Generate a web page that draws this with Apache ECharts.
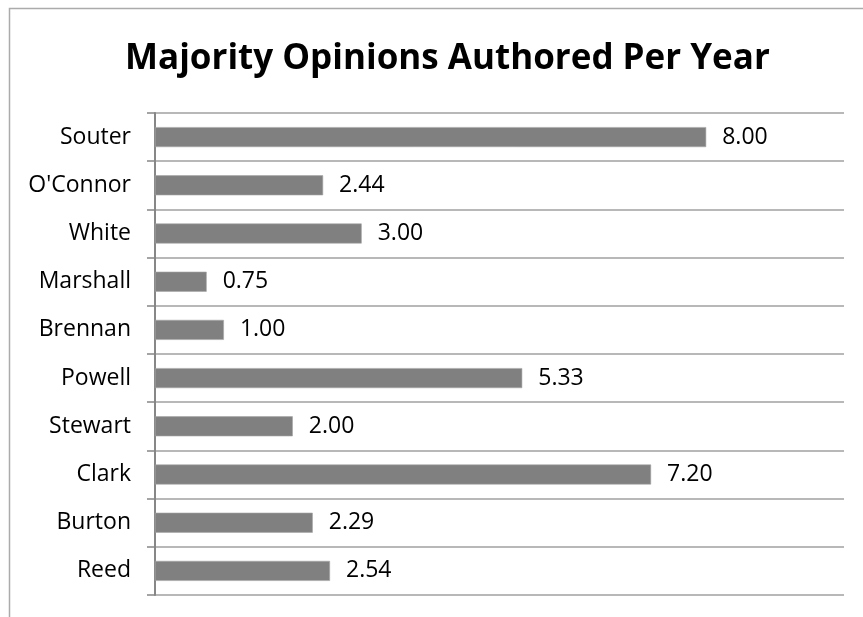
<!DOCTYPE html>
<html>
<head>
<meta charset="utf-8">
<script src="https://cdn.jsdelivr.net/npm/echarts@6/dist/echarts.min.js"></script>
<style>html,body{margin:0;padding:0;background:#fff;}#c{width:863px;height:617px;}</style>
</head>
<body>
<div id="c"></div>
<script>
const titleText = 'Majority Opinions Authored Per Year';
const justices = ['Reed', 'Burton', 'Clark', 'Stewart', 'Powell', 'Brennan', 'Marshall', 'White', "O'Connor", 'Souter'];
const opinionsPerYear = [2.54, 2.29, 7.20, 2.00, 5.33, 1.00, 0.75, 3.00, 2.44, 8.00];
const axisMax = 10;

const FONT = 'Open Sans';
const chart = echarts.init(document.getElementById('c'), null, {renderer: 'canvas'});
chart.setOption({
  animation: false,
  backgroundColor: '#ffffff',
  title: {
    text: titleText,
    left: 120,
    top: 37,
    textStyle: {fontFamily: FONT, fontWeight: 'bold', fontSize: 35, color: '#000'}
  },
  graphic: [{
    type: 'rect',
    shape: {x: 9.5, y: 8.5, width: 900, height: 700},
    style: {fill: 'none', stroke: '#ababab', lineWidth: 1.5},
    silent: true
  }],
  grid: {left: 155, right: 19, top: 113, bottom: 22, containLabel: false},
  xAxis: {
    type: 'value',
    min: 0,
    max: axisMax,
    axisLine: {show: false},
    axisTick: {show: false},
    axisLabel: {show: false},
    splitLine: {show: false}
  },
  yAxis: {
    type: 'category',
    data: justices,
    boundaryGap: true,
    axisLine: {show: true, lineStyle: {color: '#878787', width: 2}},
    axisTick: {show: true, length: 8, inside: false, lineStyle: {color: '#878787', width: 1.5}},
    axisLabel: {fontFamily: FONT, fontSize: 23, color: '#000', margin: 24},
    splitLine: {show: true, lineStyle: {color: '#a0a0a0', width: 1.5}}
  },
  series: [{
    type: 'bar',
    data: opinionsPerYear,
    barWidth: 20,
    itemStyle: {color: '#808080', borderColor: '#a6a6a6', borderWidth: 0.6},
    label: {
      show: true,
      position: 'right',
      distance: 16,
      fontFamily: FONT,
      fontSize: 23,
      color: '#000',
      formatter: p => p.value.toFixed(2)
    }
  }]
});
</script>
</body>
</html>
